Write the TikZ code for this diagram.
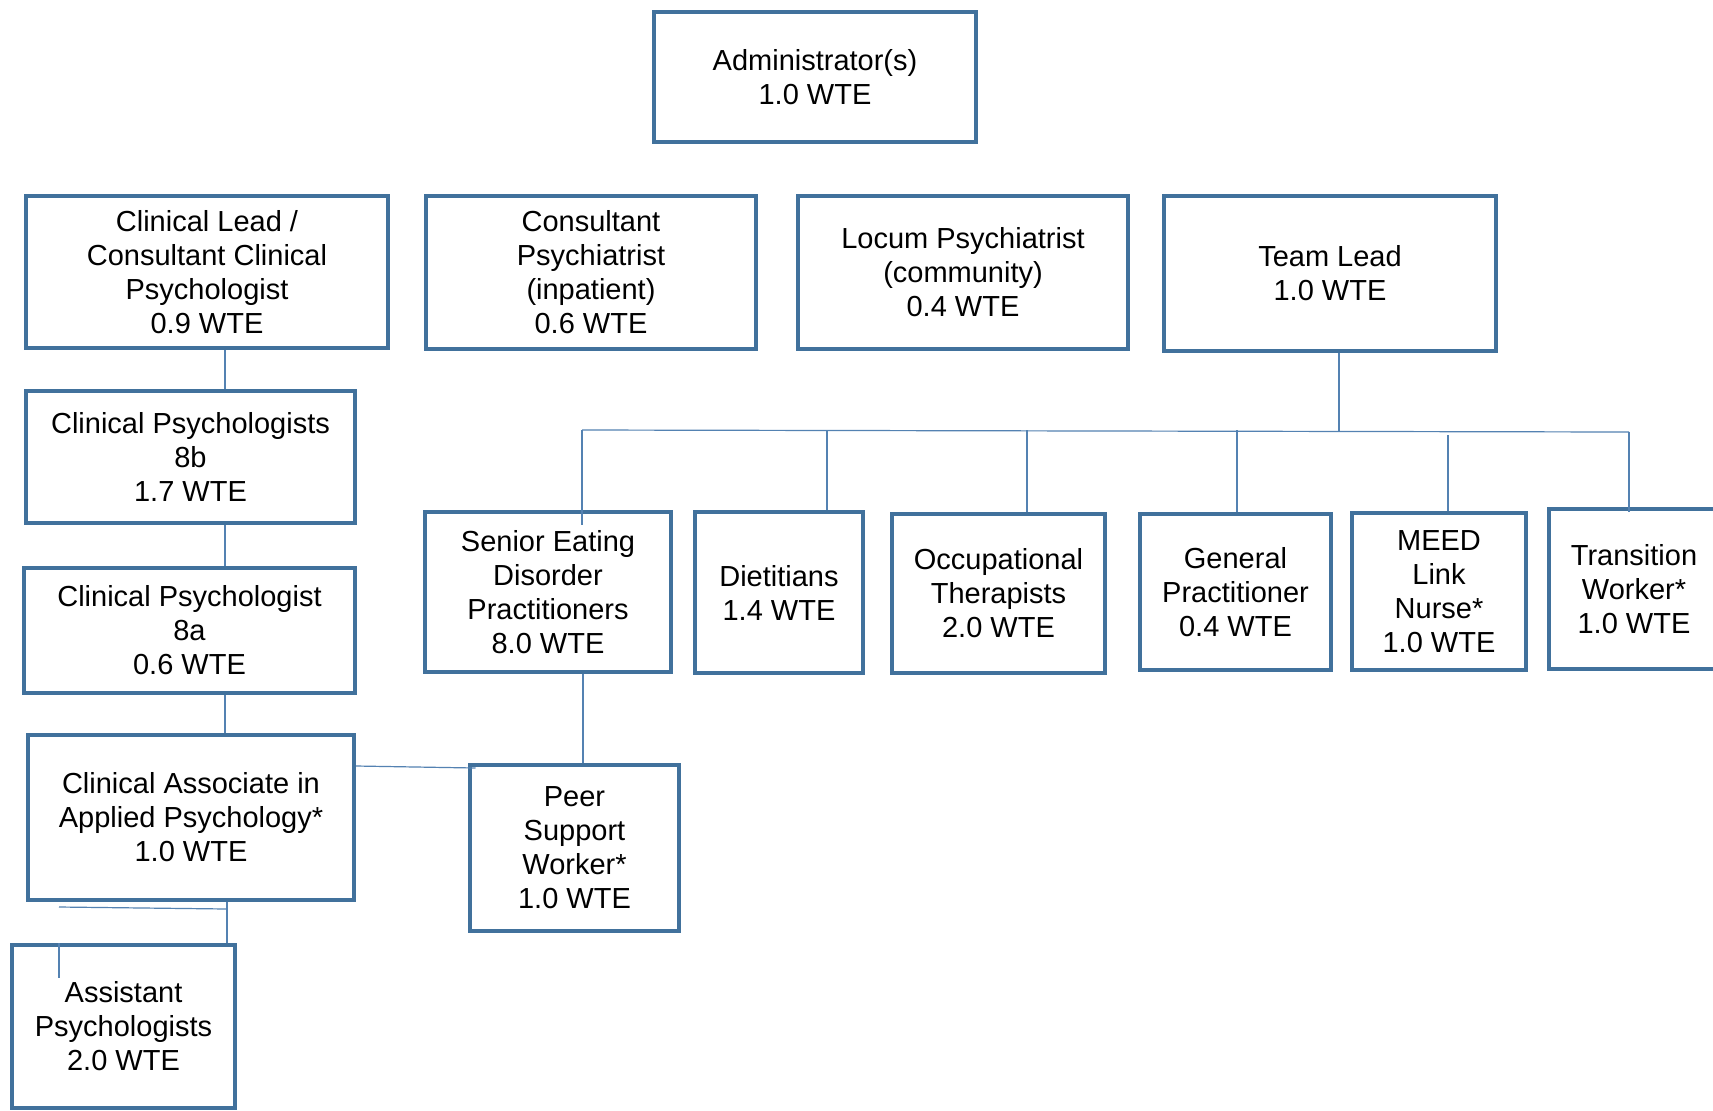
\documentclass[tikz,border=0pt]{standalone}
\usepackage{fontspec}
\setmainfont{Liberation Sans}
\usetikzlibrary{positioning}
\usetikzlibrary{calc}
\definecolor{boxblue}{RGB}{65,113,156}
\definecolor{lineblue}{RGB}{84,130,178}

\begin{document}
\begin{tikzpicture}[x=0.5pt,y=-0.5pt,every node/.style={font=\fontsize{14.5pt}{17pt}\selectfont}]
	
	\tikzstyle{role}=[rectangle,draw=boxblue,line width=2pt,fill=white,inner sep=0pt,align=center]
	\tikzstyle{conn}=[draw=lineblue,line width=0.6pt]
	
	\clip (0,0) rectangle (1713,1110);
	\fill[white] (0,0) rectangle (1713,1110);
	
		\node [role,minimum width=161pt,minimum height=65pt] (admin) at (815,77) {Administrator(s)\\1.0 WTE};
		\node [role,minimum width=181pt,minimum height=76pt] (lead) at (207,272) {Clinical Lead /\\Consultant Clinical\\Psychologist\\0.9 WTE};
		\node [role,minimum width=165pt,minimum height=76.5pt] (cpsy) at (591,272.5) {Consultant\\Psychiatrist\\(inpatient)\\0.6 WTE};
		\node [role,minimum width=165pt,minimum height=76.5pt] (locum) at (963,272.5) {Locum Psychiatrist\\(community)\\0.4 WTE};
		\node [role,minimum width=166pt,minimum height=77.5pt] (team) at (1330,273.5) {Team Lead\\1.0 WTE};
		\node [role,minimum width=164.5pt,minimum height=66pt] (cp8b) at (190.5,457) {Clinical Psychologists\\8b\\1.7 WTE};
		\node [role,minimum width=165.5pt,minimum height=62.5pt] (cp8a) at (189.5,630.5) {Clinical Psychologist\\8a\\0.6 WTE};
		\node [role,minimum width=163pt,minimum height=82.5pt] (assoc) at (191,817.5) {Clinical Associate in\\Applied Psychology*\\1.0 WTE};
		\node [role,minimum width=111.5pt,minimum height=81.5pt] (asst) at (123.5,1026.5) {Assistant\\Psychologists\\2.0 WTE};
		\node [role,minimum width=123pt,minimum height=80pt] (senior) at (548,592) {Senior Eating\\Disorder\\Practitioners\\8.0 WTE};
		\node [role,minimum width=84pt,minimum height=80.5pt] (diet) at (779,592.5) {Dietitians\\1.4 WTE};
		\node [role,minimum width=106.5pt,minimum height=79.5pt] (ot) at (998.5,593.5) {Occupational\\Therapists\\2.0 WTE};
		\node [role,minimum width=95.5pt,minimum height=78pt] (gp) at (1235.5,592) {General\\Practitioner\\0.4 WTE};
		\node [role,minimum width=87pt,minimum height=78.5pt] (meed) at (1439,591.5) {MEED\\Link\\Nurse*\\1.0 WTE};
		\node [role,minimum width=85pt,minimum height=80pt] (trans) at (1634,589) {Transition\\Worker*\\1.0 WTE};
		\node [role,minimum width=104.5pt,minimum height=83pt] (peer) at (574.5,848) {Peer\\Support\\Worker*\\1.0 WTE};
		
		% psychology line
		\draw[conn] ([xshift=9pt]lead.south) -- ([xshift=9pt]lead.south |- cp8b.north);
		\draw[conn] (cp8b.south -| 225,0) -- (cp8a.north -| 225,0);
		\draw[conn] (cp8a.south -| 225,0) -- (assoc.north -| 225,0);
		\coordinate (elbow) at (227,909);
		\coordinate (stub) at (59,907);
		\draw[conn] (assoc.south -| elbow) -- (asst.north -| elbow);
		\draw[conn] (stub) -- (elbow);
		\draw[conn] (asst.north -| stub) -- ++(0,35);
		\draw[conn] ([yshift=-16.5pt]assoc.north east) -- ([xshift=3.75pt,yshift=-2.5pt]peer.north west);
		
		% team lead bus
		\coordinate (busL) at (582,430);
		\coordinate (busR) at (1629,432);
		\draw[conn] (busL) -- (busR);
		\draw[conn] ([xshift=4.5pt]team.south) -- ([xshift=4.5pt]team.south |- 0,431);
		\draw[conn] (busL) -- ([yshift=-7.5pt]senior.north -| busL);
		\foreach \n/\x in {diet/827,ot/1027,gp/1237}
			\draw[conn] (busL -| \x,0) -- (\n.north -| \x,0);
		\draw[conn] (meed.north -| 1448,435) -- (1448,435);
		\draw[conn] (busR) -- ([yshift=-2.5pt]trans.north -| busR);
		\draw[conn] (senior.south -| 583,0) -- (peer.north -| 583,0);
	
	\end{tikzpicture}
\end{document}
